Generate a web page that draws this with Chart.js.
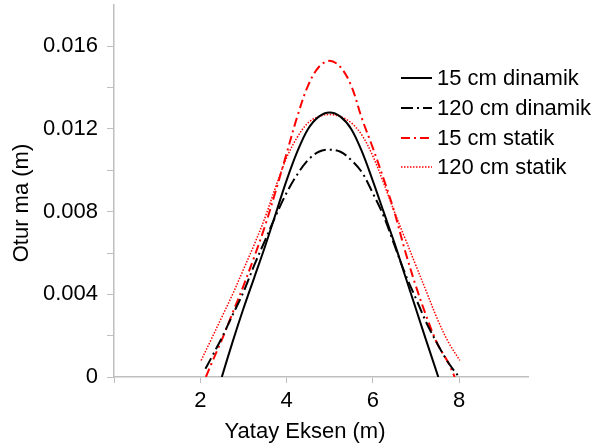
<!DOCTYPE html>
<html>
<head>
<meta charset="utf-8">
<script src="https://cdn.jsdelivr.net/npm/chart.js@4"></script>
<style>
  html, body { margin: 0; padding: 0; background: #fff; }
  #wrap { width: 595px; height: 448px; }
</style>
</head>
<body>
<div id="wrap"><canvas id="chart" width="595" height="448"></canvas></div>
<script>
// values (x in m, settlement in m)
const seriesLabels = ["15 cm dinamik", "120 cm dinamik", "15 cm statik", "120 cm statik"];

const x15Din = [2.5, 2.75, 3.0, 3.25, 3.5, 3.75, 4.0, 4.25, 4.5, 4.75, 5.0, 5.25, 5.5, 5.75, 6.0, 6.25, 6.5, 6.75, 7.0, 7.25, 7.52];
const y15Din = [0, 0.0017, 0.0033, 0.0048, 0.0063, 0.0079, 0.0095, 0.0109, 0.0120, 0.0126, 0.0128, 0.0126, 0.0120, 0.0109, 0.0095, 0.0080, 0.0065, 0.0049, 0.0033, 0.0017, 0];

const x120Din = [2.12, 2.25, 2.5, 2.75, 3.0, 3.25, 3.5, 3.75, 4.0, 4.25, 4.5, 4.75, 5.0, 5.25, 5.5, 5.75, 6.0, 6.25, 6.5, 6.75, 7.0, 7.25, 7.5, 7.75, 8.0];
const y120Din = [0.0004, 0.0009, 0.0019, 0.0030, 0.0041, 0.0054, 0.0066, 0.0078, 0.0089, 0.0098, 0.0105, 0.0109, 0.0110, 0.0109, 0.0105, 0.0099, 0.0089, 0.0078, 0.0064, 0.0050, 0.0038, 0.0026, 0.0016, 0.0007, 0];

const x15Sta = [2.13, 2.25, 2.5, 2.75, 3.0, 3.25, 3.5, 3.75, 4.0, 4.25, 4.5, 4.75, 5.0, 5.25, 5.5, 5.75, 6.0, 6.25, 6.5, 6.75, 7.0, 7.25, 7.5, 7.75, 7.9];
const y15Sta = [0, 0.0006, 0.0018, 0.0031, 0.0044, 0.0058, 0.0073, 0.0090, 0.0108, 0.0126, 0.0141, 0.0150, 0.0153, 0.0150, 0.0141, 0.0125, 0.0111, 0.0096, 0.0080, 0.0061, 0.0044, 0.0029, 0.0016, 0.0007, 0];

const x120Sta = [2.02, 2.25, 2.5, 2.75, 3.0, 3.25, 3.5, 3.75, 4.0, 4.25, 4.5, 4.75, 5.0, 5.25, 5.5, 5.75, 6.0, 6.25, 6.5, 6.75, 7.0, 7.25, 7.5, 7.75, 8.02];
const y120Sta = [0.0008, 0.0018, 0.0029, 0.0040, 0.0052, 0.0064, 0.0077, 0.0092, 0.0106, 0.0116, 0.0123, 0.0126, 0.0127, 0.0126, 0.0123, 0.0117, 0.0107, 0.0094, 0.0080, 0.0067, 0.0054, 0.0041, 0.0028, 0.0017, 0.0008];

const xTickStep = 2;
const yTickStep = 0.002;
const yLabelStep = 0.004;

function pts(xs, ys) {
    return xs.map((x, i) => ({ x: x, y: ys[i] }));
}

const FONT = "'Liberation Sans', Arial, sans-serif";
const AXIS_GRAY = "#bfbfbf";

// legend drawn inside the plot, top right
const legendPlugin = {
    id: "sideLegend",
    afterDraw(chart) {
        const ctx = chart.ctx;
        const x0 = 401, x1 = 432, tx = 437;
        const rows = [78, 108, 138, 167];
        ctx.save();
        ctx.font = "22px " + FONT;
        ctx.textBaseline = "middle";
        chart.data.datasets.forEach((ds, i) => {
            const y = rows[i];
            ctx.beginPath();
            ctx.strokeStyle = ds.borderColor;
            ctx.lineWidth = ds.borderWidth;
            ctx.setLineDash(ds.borderDash || []);
            ctx.moveTo(x0, y);
            ctx.lineTo(x1, y);
            ctx.stroke();
            ctx.setLineDash([]);
            ctx.fillStyle = "#000";
            ctx.fillText(ds.label, tx, y + 1);
        });
        ctx.restore();
    }
};

// axis titles, placed where the original has them
const titlePlugin = {
    id: "axisTitles",
    afterDraw(chart) {
        const ctx = chart.ctx;
        ctx.save();
        ctx.font = "22px " + FONT;
        ctx.fillStyle = "#000";
        ctx.textAlign = "center";
        ctx.textBaseline = "middle";
        ctx.fillText("Yatay Eksen (m)", 305, 432);
        ctx.translate(22, 203);
        ctx.rotate(-Math.PI / 2);
        ctx.fillText("Otur ma (m)", 0, 0);
        ctx.restore();
    }
};

const ctx = document.getElementById("chart").getContext("2d");

new Chart(ctx, {
    type: "line",
    data: {
        datasets: [
            {
                label: seriesLabels[0],
                data: pts(x15Din, y15Din),
                borderColor: "#000000",
                borderWidth: 2,
                borderDash: []
            },
            {
                label: seriesLabels[1],
                data: pts(x120Din, y120Din),
                borderColor: "#000000",
                borderWidth: 2,
                borderDash: [12, 4, 2, 4]
            },
            {
                label: seriesLabels[2],
                data: pts(x15Sta, y15Sta),
                borderColor: "#ff0000",
                borderWidth: 2,
                borderDash: [9, 4, 2, 4]
            },
            {
                label: seriesLabels[3],
                data: pts(x120Sta, y120Sta),
                borderColor: "#ff0000",
                borderWidth: 1.5,
                borderDash: [1.5, 1.5]
            }
        ]
    },
    options: {
        responsive: false,
        animation: false,
        events: [],
        layout: { padding: { top: 5, right: 67, left: 0, bottom: 0 } },
        elements: {
            point: { radius: 0 },
            line: { tension: 0.35, fill: false }
        },
        plugins: {
            legend: { display: false },
            tooltip: { enabled: false }
        },
        scales: {
            x: {
                type: "linear",
                min: 0,
                max: 9.6,
                afterFit(scale) {
                    scale.height = 71;
                    scale.paddingLeft = 0;
                    scale.paddingRight = 0;
                },
                border: { color: AXIS_GRAY, width: 1.5 },
                grid: { drawOnChartArea: false, tickLength: 6, color: AXIS_GRAY },
                ticks: {
                    stepSize: xTickStep,
                    includeBounds: false,
                    maxRotation: 0,
                    padding: 5,
                    color: "#000",
                    font: { family: FONT, size: 22 },
                    callback: (v) => (v === 0 ? "" : String(v))
                }
            },
            y: {
                type: "linear",
                min: 0,
                max: 0.018,
                afterFit(scale) {
                    scale.width = 114;
                    scale.paddingTop = 0;
                    scale.paddingBottom = 0;
                },
                border: { color: AXIS_GRAY, width: 1.5 },
                grid: {
                    drawOnChartArea: false,
                    tickLength: 7,
                    color: (c) => (c.tick && c.tick.value > 0.0175 ? "rgba(0,0,0,0)" : AXIS_GRAY)
                },
                ticks: {
                    stepSize: yTickStep,
                    padding: 9,
                    color: "#000",
                    font: { family: FONT, size: 22 },
                    callback: (v) => {
                        const k = Math.round(v * 1000);
                        if (k % Math.round(yLabelStep * 1000) !== 0) return "";
                        return k === 0 ? "0" : (k / 1000).toFixed(3);
                    }
                }
            }
        }
    },
    plugins: [legendPlugin, titlePlugin]
});
</script>
</body>
</html>
